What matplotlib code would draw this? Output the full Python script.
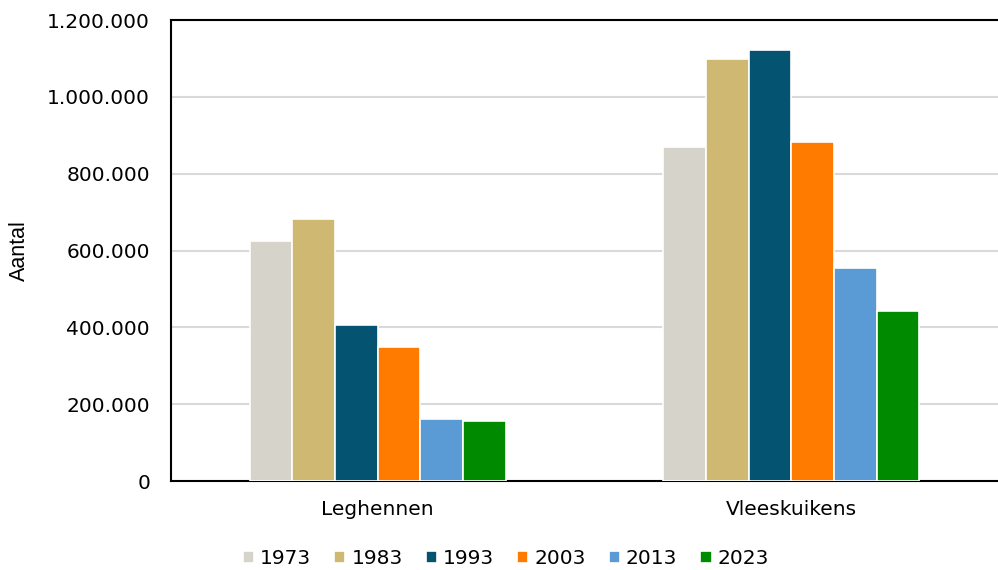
import matplotlib
matplotlib.use("Agg")
import matplotlib.pyplot as plt
import numpy as np

categories = ["Leghennen", "Vleeskuikens"]
years = ["1973", "1983", "1993", "2003", "2013", "2023"]
values_leghennen = [625000, 682000, 405000, 348000, 162000, 156000]
values_vleeskuikens = [870000, 1098000, 1121000, 882000, 554000, 442000]
colours = ["#D6D3CB", "#CFB972", "#035371", "#FF7B00", "#5B9BD5", "#008A00"]
yticks = [0, 200000, 400000, 600000, 800000, 1000000, 1200000]

plt.rcParams["font.family"] = ["DejaVu Sans"]

fig = plt.figure(figsize=(9.98, 5.70), dpi=100)
ax = fig.add_axes([0.1713, 0.1561, 0.8287, 0.8088])

x = np.arange(len(categories))
n = len(years)
width = 0.62 / n
for i, year in enumerate(years):
    vals = [values_leghennen[i], values_vleeskuikens[i]]
    offs = (i - (n - 1) / 2) * width
    ax.bar(x + offs, vals, width=width, color=colours[i], edgecolor="white",
           linewidth=1.2, label=year, zorder=3)

ax.set_xlim(-0.5, 1.5)
ax.set_ylim(0, 1200000)
ax.set_yticks(yticks)
ax.set_yticklabels([f"{v:,}".replace(",", ".") for v in yticks])
ax.set_xticks(x)
ax.set_xticklabels(categories)
ax.tick_params(axis="y", length=0, pad=15, labelsize=14.5)
ax.tick_params(axis="x", length=0, pad=14, labelsize=14.5)
ax.yaxis.grid(True, color="#D9D9D9", linewidth=1.5, zorder=0)
ax.set_axisbelow(True)
for side in ["left", "bottom", "top"]:
    ax.spines[side].set_linewidth(1.5)
    ax.spines[side].set_color("black")
ax.spines["right"].set_visible(False)
ax.set_ylabel("Aantal", fontsize=15.5, family=["Liberation Sans"])
ax.yaxis.set_label_coords(-0.170, 0.5)

ax.legend(loc="upper center", bbox_to_anchor=(0.405, -0.108), ncol=6, frameon=False,
          fontsize=14.5, handlelength=0.55, handleheight=0.55, handletextpad=0.3,
          columnspacing=1.15)

fig.savefig("out.png", dpi=100)
